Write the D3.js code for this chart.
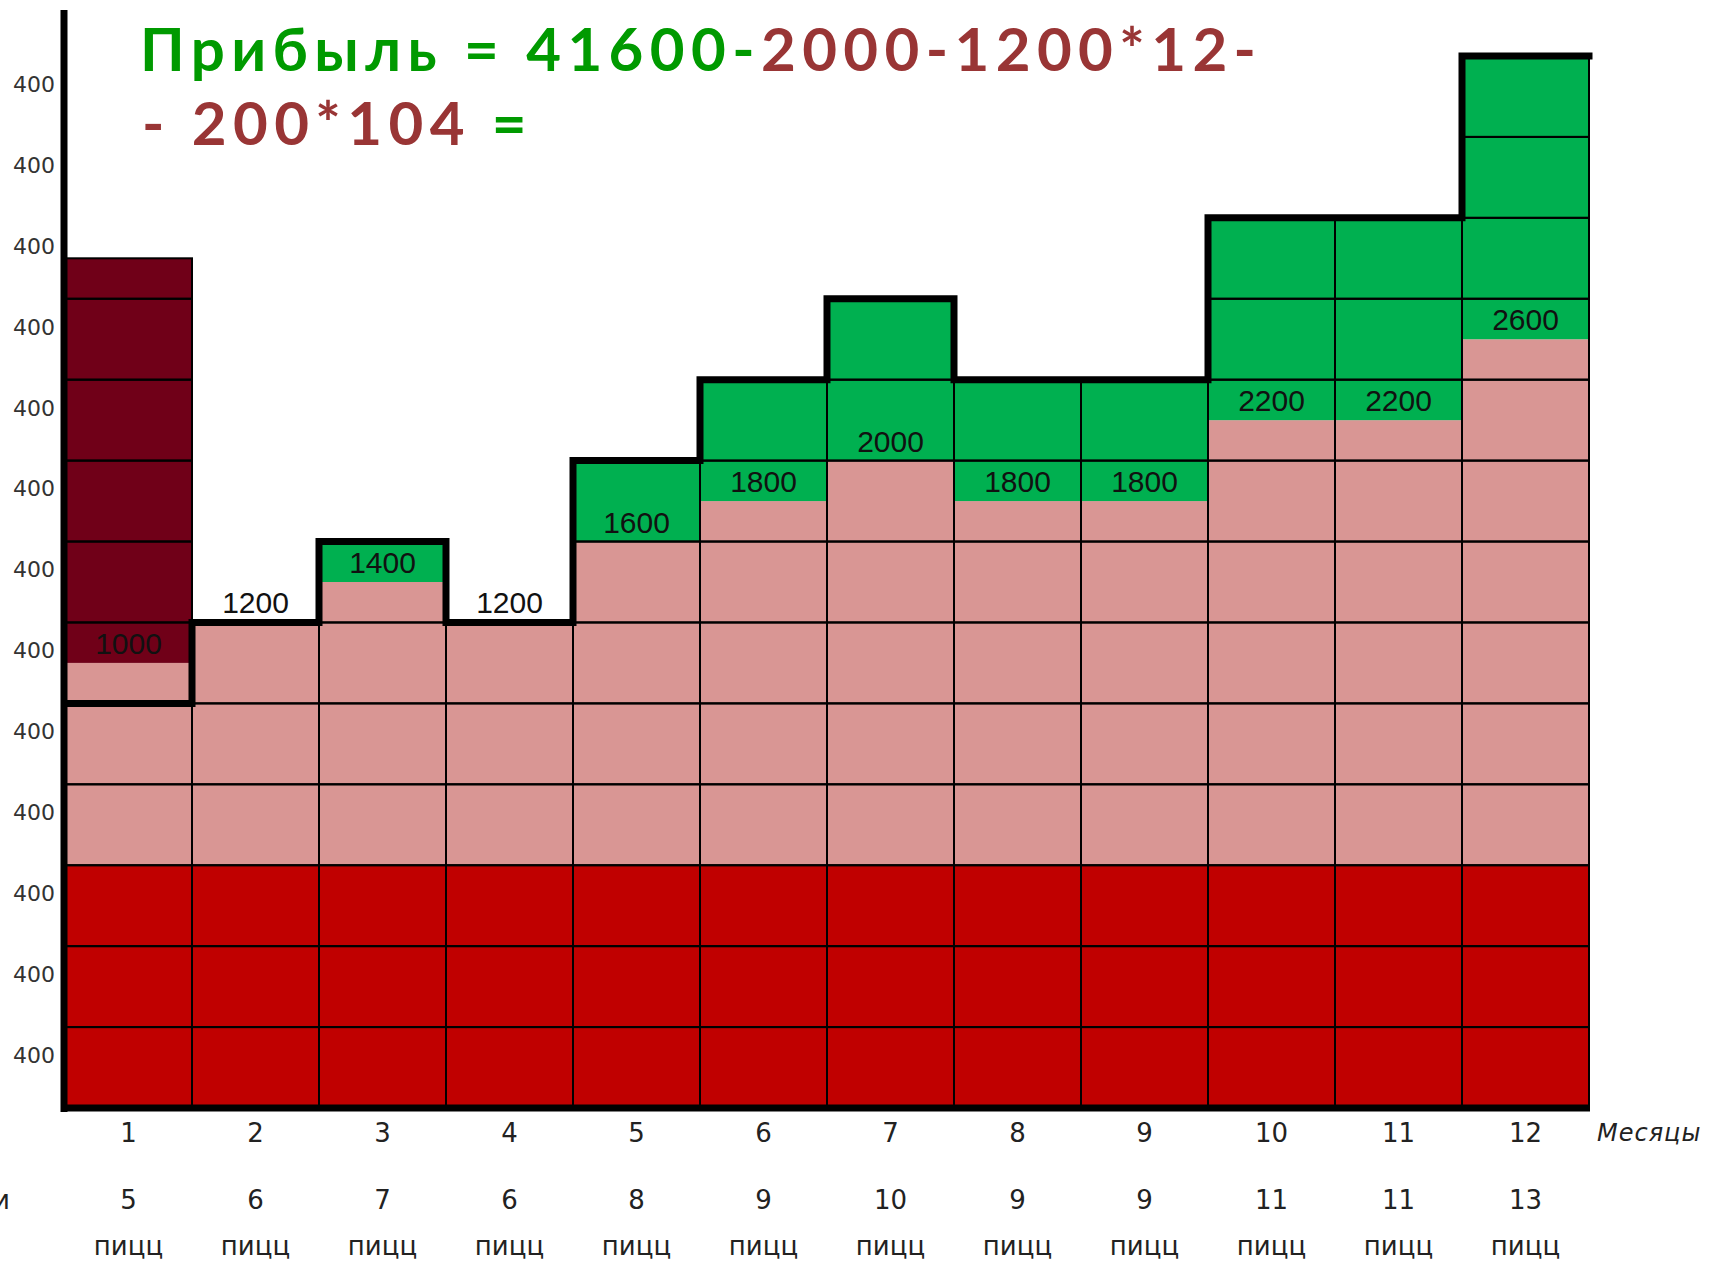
<!DOCTYPE html>
<meta charset="utf-8">
<style>
body { margin: 0; background: #fff; }
svg text { font-family: "DejaVu Sans", sans-serif; }
.title text { font-family: "Comic Sans MS", "Lato", sans-serif; font-weight: 700; white-space: pre; }
.cell { fill: none; stroke: #000; stroke-width: 2px; }
.step { fill: none; stroke: #000; stroke-width: 7px; stroke-linejoin: miter; stroke-linecap: square; }
.frame { stroke: #000; stroke-width: 7px; }
.axis-y text { font-size: 22px; fill: #333; }
.axis-x text { font-size: 26px; fill: #222; }
.value { font-family: "Liberation Sans", Arial, sans-serif; font-size: 30px; fill: #111; text-anchor: middle; }
.under { font-size: 26px; fill: #222; text-anchor: middle; }
.months-label { font-size: 24px; font-style: italic; fill: #222; letter-spacing: 1px; }
</style>
<body>
<div id="chart"></div>

<script src="https://cdn.jsdelivr.net/npm/d3@7"></script>

<script>
// data
var months    = ["1","2","3","4","5","6","7","8","9","10","11","12"];
var pizzas    = [5, 6, 7, 6, 8, 9, 10, 9, 9, 11, 11, 13];
var revenue   = [2000, 2400, 2800, 2400, 3200, 3600, 4000, 3600, 3600, 4400, 4400, 5200];
var rent      = [1200, 1200, 1200, 1200, 1200, 1200, 1200, 1200, 1200, 1200, 1200, 1200];
var pizzaCost = [1000, 1200, 1400, 1200, 1600, 1800, 2000, 1800, 1800, 2200, 2200, 2600];
var startup   = [2000, 0, 0, 0, 0, 0, 0, 0, 0, 0, 0, 0];
var yTicks    = [400, 800, 1200, 1600, 2000, 2400, 2800, 3200, 3600, 4000, 4400, 4800, 5200];
var yTickText = "400";
var unitText  = "пицц";
var axisText  = "Месяцы";
var rowText   = "Продажи";
var titleLine1 = [{text: "Прибыль = 41600-", kind: "income"}, {text: "2000-1200*12-", kind: "cost"}];
var titleLine2 = [{text: "- 200*104", kind: "cost"}, {text: " =", kind: "income"}];

var colors = {rent: "#c00000", cost: "#d99694", startup: "#700018", profit: "#00b050"};
var titleColors = {income: "#009a00", cost: "#993535"};

var W = 1715, H = 1262,
    plotLeft = 65, plotRight = 1589, plotTop = 56, plotBottom = 1108;

var svg = d3.select("#chart").append("svg")
    .attr("width", W)
    .attr("height", H);

var x = d3.scaleBand().domain(months).range([plotLeft, plotRight]).padding(0);
var y = d3.scaleLinear().domain([0, d3.max(yTicks)]).range([plotBottom, plotTop]);
var step = yTicks[0];

// coloured segments of every month
var segs = [];
months.forEach(function(m, i) {
  var costTop = rent[i] + pizzaCost[i];
  var spendTop = costTop + startup[i];
  segs.push({m: m, kind: "rent", y0: 0, y1: rent[i]});
  segs.push({m: m, kind: "cost", y0: rent[i], y1: costTop});
  if (startup[i] > 0) segs.push({m: m, kind: "startup", y0: costTop, y1: spendTop});
  if (revenue[i] > spendTop) segs.push({m: m, kind: "profit", y0: spendTop, y1: revenue[i]});
});

svg.append("g").selectAll("rect")
  .data(segs)
  .join("rect")
    .attr("x", function(d) { return x(d.m); })
    .attr("width", x.bandwidth())
    .attr("y", function(d) { return y(d.y1); })
    .attr("height", function(d) { return y(d.y0) - y(d.y1); })
    .attr("fill", function(d) { return colors[d.kind]; });

// grid cells, one per 400
var cells = [];
months.forEach(function(m, i) {
  var colTop = Math.max(revenue[i], rent[i] + pizzaCost[i] + startup[i]);
  for (var v = 0; v < colTop; v += step) cells.push({m: m, y0: v, y1: Math.min(v + step, colTop)});
});

svg.append("g").selectAll("rect")
  .data(cells)
  .join("rect")
    .attr("class", "cell")
    .attr("x", function(d) { return x(d.m); })
    .attr("width", x.bandwidth())
    .attr("y", function(d) { return y(d.y1); })
    .attr("height", function(d) { return y(d.y0) - y(d.y1); });

// thick revenue outline
var pts = months.map(function(m, i) { return [x(m), revenue[i]]; });
pts.push([x(months[months.length - 1]) + x.bandwidth(), revenue[revenue.length - 1]]);

svg.append("path")
  .attr("class", "step")
  .attr("d", d3.line()
      .x(function(d) { return d[0]; })
      .y(function(d) { return y(d[1]); })
      .curve(d3.curveStepAfter)(pts));

// axes frame
svg.append("line").attr("class", "frame")
  .attr("x1", plotLeft - 1).attr("x2", plotLeft - 1)
  .attr("y1", 10).attr("y2", plotBottom + 4);
svg.append("line").attr("class", "frame")
  .attr("x1", plotLeft - 4).attr("x2", plotRight + 1)
  .attr("y1", plotBottom).attr("y2", plotBottom);

// y labels, one per row
var yAxis = svg.append("g")
  .attr("class", "axis-y")
  .attr("transform", "translate(" + plotLeft + ",0)")
  .call(d3.axisLeft(y)
    .tickValues(yTicks.map(function(v) { return v - step * 0.35; }))
    .tickSize(0)
    .tickPadding(10)
    .tickFormat(function() { return yTickText; }));
yAxis.select(".domain").remove();

// month numbers
var xAxis = svg.append("g")
  .attr("class", "axis-x")
  .attr("transform", "translate(0," + plotBottom + ")")
  .call(d3.axisBottom(x).tickSize(0).tickPadding(16));
xAxis.select(".domain").remove();

svg.append("text")
  .attr("class", "months-label")
  .attr("x", plotRight + 8)
  .attr("y", plotBottom + 33)
  .text(axisText);

// pizzas sold per month
var under = svg.append("g");
under.selectAll(".cnt")
  .data(pizzas)
  .join("text")
    .attr("class", "under cnt")
    .attr("x", function(d, i) { return x(months[i]) + x.bandwidth() / 2; })
    .attr("y", 1209)
    .text(function(d) { return d; });
under.selectAll(".unit")
  .data(pizzas)
  .join("text")
    .attr("class", "under unit")
    .attr("x", function(d, i) { return x(months[i]) + x.bandwidth() / 2; })
    .attr("y", 1255)
    .text(unitText);
under.append("text")
  .attr("class", "under")
  .style("text-anchor", "end")
  .attr("x", 10)
  .attr("y", 1209)
  .text(rowText);

// pizza cost labels above the pink part
svg.append("g").selectAll("text")
  .data(pizzaCost)
  .join("text")
    .attr("class", "value")
    .attr("x", function(d, i) { return x(months[i]) + x.bandwidth() / 2; })
    .attr("y", function(d, i) { return y(rent[i] + d) - 9; })
    .text(function(d) { return d; });

// formula title: smaller glyphs, spaced out to the slide's width
var fs = 60;
var title = svg.append("g").attr("class", "title").style("font-size", fs + "px");
var t1 = title.append("text").attr("x", 140).attr("y", 71);
t1.selectAll("tspan").data(titleLine1).join("tspan")
  .attr("fill", function(d) { return titleColors[d.kind]; })
  .text(function(d) { return d.text; });
var n1 = titleLine1.map(function(d) { return d.text; }).join("").length;
var ls = (1116 - t1.node().getComputedTextLength()) / (n1 - 1);
title.style("letter-spacing", ls + "px");

var t2 = title.append("text").attr("x", 142).attr("y", 145);
t2.selectAll("tspan").data(titleLine2).join("tspan")
  .attr("fill", function(d) { return titleColors[d.kind]; })
  .text(function(d) { return d.text; });
</script>
